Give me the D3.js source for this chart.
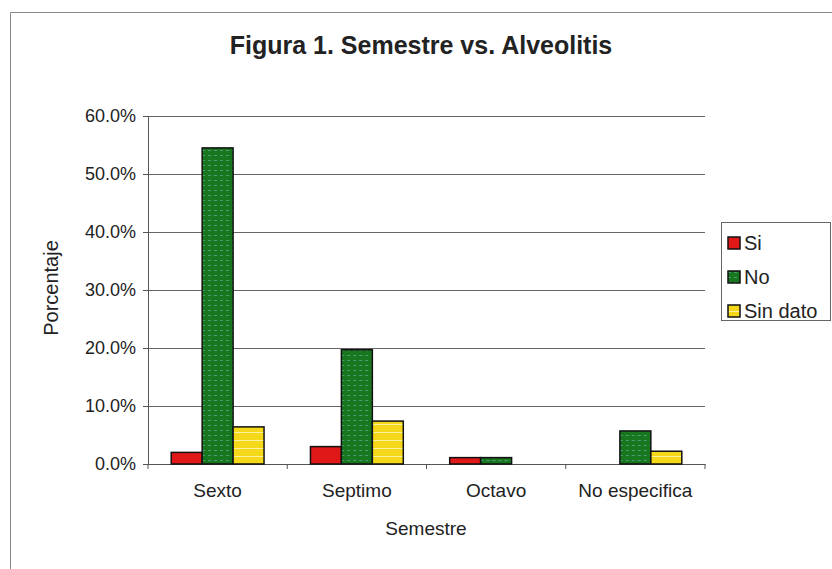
<!DOCTYPE html>
<html>
<head>
<meta charset="utf-8">
<script src="https://cdn.jsdelivr.net/npm/d3@7"></script>
<style>
  body { margin: 0; background: #fff; }
  svg { display: block; font-family: "Liberation Sans", Arial, sans-serif; }
</style>
</head>
<body>
<div id="chart"></div>
<script>
var categories = ["Sexto", "Septimo", "Octavo", "No especifica"];
var seriesNames = ["Si", "No", "Sin dato"];
var siValues = [2.0, 3.0, 1.1, 0];
var noValues = [54.5, 19.7, 1.1, 5.7];
var sinDatoValues = [6.4, 7.4, 0, 2.2];
var yTicks = [0, 10, 20, 30, 40, 50, 60];
var colors = ["#e01818", "#17761e", "#f6d81a"];

(function() {
  var W = 832, H = 569;
  var svg = d3.select("#chart").append("svg")
      .attr("width", W)
      .attr("height", H);

  /* scan-like textures on the green and yellow fills */
  var defs = svg.append("defs");
  var pg = defs.append("pattern")
    .attr("id", "pat1").attr("patternUnits", "userSpaceOnUse")
    .attr("width", 6).attr("height", 5);
  pg.append("rect").attr("width", 6).attr("height", 5).style("fill", colors[1]);
  pg.append("line").attr("x1", 0).attr("x2", 3).attr("y1", 0.5).attr("y2", 0.5)
    .style("stroke", "#6fb8b0").style("stroke-width", 1).style("opacity", 0.6);
  var py = defs.append("pattern")
    .attr("id", "pat2").attr("patternUnits", "userSpaceOnUse")
    .attr("width", 6).attr("height", 8);
  py.append("rect").attr("width", 6).attr("height", 8).style("fill", colors[2]);
  py.append("line").attr("x1", 0).attr("x2", 6).attr("y1", 0.5).attr("y2", 0.5)
    .style("stroke", "#fff6c0").style("stroke-width", 1).style("opacity", 0.8);
  var fills = [colors[0], "url(#pat1)", "url(#pat2)"];

  /* frame of the scanned figure */
  svg.append("path")
    .attr("d", "M10.5," + H + " L10.5,12.5 L" + W + ",12.5")
    .style("fill", "none")
    .style("stroke", "#888")
    .style("stroke-width", 1);

  var pLeft = 148, pRight = 705, pTop = 116, pBottom = 464;

  var x = d3.scaleBand().domain(categories).range([pLeft, pRight]);
  var y = d3.scaleLinear().domain([0, 60]).range([pBottom, pTop]);
  // gap width 150% like the spreadsheet default
  var step = x.bandwidth() / 4.5;
  var xs = d3.scaleBand().domain(seriesNames).range([step * 0.75, x.bandwidth() - step * 0.75]);

  var rows = categories.map(function(c, i) {
    return { cat: c, vals: [siValues[i], noValues[i], sinDatoValues[i]] };
  });

  /* title */
  svg.append("text")
    .attr("x", 421)
    .attr("y", 54)
    .attr("text-anchor", "middle")
    .style("font-size", "25px")
    .style("font-weight", "bold")
    .style("fill", "#222")
    .text("Figura 1. Semestre vs. Alveolitis");

  /* gridlines */
  svg.selectAll(".grid")
    .data(yTicks.slice(1))
    .enter().append("line")
    .attr("class", "grid")
    .attr("x1", pLeft)
    .attr("x2", pRight)
    .attr("y1", function(d) { return Math.round(y(d)) + 0.5; })
    .attr("y2", function(d) { return Math.round(y(d)) + 0.5; })
    .style("stroke", "#666")
    .style("stroke-width", 1);

  /* y axis */
  var yAxis = svg.append("g")
    .attr("transform", "translate(" + pLeft + ",0)")
    .call(d3.axisLeft(y).tickValues(yTicks).tickSize(5).tickPadding(7)
      .tickFormat(function(d) { return d.toFixed(1) + "%"; }));
  yAxis.select(".domain").style("stroke", "#555");
  yAxis.selectAll(".tick line").style("stroke", "#555");
  yAxis.selectAll("text")
    .style("font-size", "18px")
    .style("fill", "#222")
    .style("font-family", "'Liberation Sans', Arial, sans-serif");

  /* x axis */
  var xAxis = svg.append("g")
    .attr("transform", "translate(0," + pBottom + ")")
    .call(d3.axisBottom(x).tickSize(0).tickPadding(20));
  xAxis.select(".domain").style("stroke", "#555");
  xAxis.selectAll("text")
    .style("font-size", "19px")
    .style("fill", "#222")
    .style("font-family", "'Liberation Sans', Arial, sans-serif");
  xAxis.selectAll(".sep")
    .data(categories.concat(["end"]))
    .enter().append("line")
    .attr("class", "sep")
    .attr("x1", function(d, i) { return pLeft + i * x.step(); })
    .attr("x2", function(d, i) { return pLeft + i * x.step(); })
    .attr("y1", 0)
    .attr("y2", 5)
    .style("stroke", "#555");

  /* bars */
  var groups = svg.selectAll(".group")
    .data(rows)
    .enter().append("g")
    .attr("class", "group")
    .attr("transform", function(d) { return "translate(" + x(d.cat) + ",0)"; });

  groups.selectAll("rect")
    .data(function(d) {
      return d.vals.map(function(v, i) { return { s: seriesNames[i], v: v, i: i }; })
        .filter(function(e) { return e.v > 0; });
    })
    .enter().append("rect")
    .attr("x", function(d) { return xs(d.s); })
    .attr("y", function(d) { return y(d.v); })
    .attr("width", xs.bandwidth())
    .attr("height", function(d) { return pBottom - y(d.v); })
    .style("fill", function(d) { return fills[d.i]; })
    .style("stroke", "#111")
    .style("stroke-width", 1.5);

  /* axis titles */
  svg.append("text")
    .attr("x", 426)
    .attr("y", 535)
    .attr("text-anchor", "middle")
    .style("font-size", "19px")
    .style("fill", "#222")
    .text("Semestre");

  svg.append("text")
    .attr("transform", "translate(58,288) rotate(-90)")
    .attr("text-anchor", "middle")
    .style("font-size", "20px")
    .style("fill", "#222")
    .text("Porcentaje");

  /* legend */
  var legend = svg.append("g").attr("transform", "translate(721,222)");
  legend.append("rect")
    .attr("x", 0.5).attr("y", 0.5)
    .attr("width", 109).attr("height", 98)
    .style("fill", "#fff")
    .style("stroke", "#666");
  var items = legend.selectAll(".item")
    .data(seriesNames)
    .enter().append("g")
    .attr("class", "item")
    .attr("transform", function(d, i) { return "translate(7," + (21 + i * 34) + ")"; });
  items.append("rect")
    .attr("x", 0).attr("y", -6)
    .attr("width", 12).attr("height", 12)
    .style("fill", function(d, i) { return fills[i]; })
    .style("stroke", "#111")
    .style("stroke-width", 1.5);
  items.append("text")
    .attr("x", 16)
    .attr("y", 7)
    .style("font-size", "20px")
    .style("fill", "#222")
    .text(function(d) { return d; });
})();
</script>
</body>
</html>
